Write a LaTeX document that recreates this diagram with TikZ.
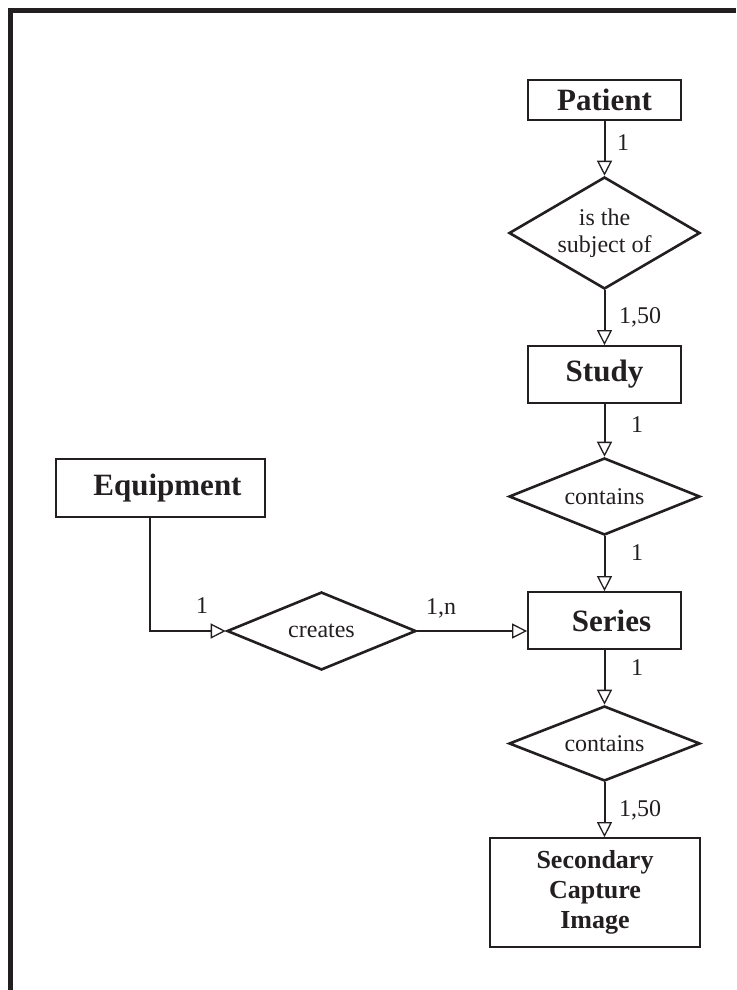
\documentclass[tikz,border=0pt]{standalone}
\usepackage{fontspec}
\setmainfont{Liberation Serif}
\usetikzlibrary{shapes.geometric,arrows.meta}
\definecolor{ink}{RGB}{35,31,32}
\tikzset{
  entity/.style={draw=ink, line width=1.8pt, rectangle, inner sep=0pt, text=ink,
    font=\fontsize{31}{34}\selectfont\bfseries},
  rel/.style={draw=ink, line width=2.6pt, diamond, inner sep=0pt, text=ink,
    font=\fontsize{24}{27}\selectfont, align=center},
  conn/.style={draw=ink, line width=2pt, -{Triangle[open, length=15pt, width=15pt, line width=1.3pt]}},
  card/.style={anchor=west, inner sep=0pt, text=ink, font=\fontsize{24}{27}\selectfont},
}
\begin{document}
\begin{tikzpicture}[x=1pt,y=-1pt]
\useasboundingbox (0,0) rectangle (736,990);
\draw[ink, line width=4.5pt] (10.5,990) -- (10.5,10.5) -- (736,10.5);

\node[entity, minimum width=153pt, minimum height=40pt] (patient) at (604.5,100) {Patient};
\node[rel, minimum width=191pt, minimum height=112pt, aspect=1.7] (rel1) at (604.5,233) {is the\\subject of};
\node[entity, minimum width=153pt, minimum height=57pt] (study) at (604.5,374.5) {Study};
\node[rel, minimum width=191pt, minimum height=77pt, aspect=2.48] (rel2) at (604.5,496.5) {contains};
\node[entity, minimum width=153pt, minimum height=57pt] (series) at (604.5,620.5) {\hspace*{14pt}Series};
\node[rel, minimum width=191pt, minimum height=75pt, aspect=2.55] (rel3) at (604.5,743.5) {contains};
\node[entity, minimum width=210pt, minimum height=109pt, align=center,
  font=\fontsize{26}{30}\selectfont\bfseries] (sci) at (595,892.5) {Secondary\\Capture\\Image};
\node[entity, minimum width=209pt, minimum height=58pt] (equip) at (160.5,488) {\hspace*{14pt}Equipment};
\node[rel, minimum width=189pt, minimum height=78pt, aspect=2.42] (creates) at (321.5,631) {creates};

\draw[conn] (patient.south) -- (rel1.north);
\draw[conn] (rel1.south) -- (study.north);
\draw[conn] (study.south) -- (rel2.north);
\draw[conn] (rel2.south) -- (series.north);
\draw[conn] (series.south) -- (rel3.north);
\draw[conn] (rel3.south) -- (rel3.south |- sci.north);
\draw[conn] ([xshift=-10.5pt]equip.south) |- (creates.west);
\draw[conn] (creates.east) -- (creates.east -| series.west);

\node[card] (c1) at (617,143) {1};
\node[card] (c2) at (619,317) {1,50};
\node[card] (c3) at (631,425) {1};
\node[card] (c4) at (631,553) {1};
\node[card] (c5) at (631,668) {1};
\node[card] (c6) at (619,810) {1,50};
\node[card] (c7) at (196,606) {1};
\node[card] (c8) at (426,608) {1,n};
\end{tikzpicture}
\end{document}
